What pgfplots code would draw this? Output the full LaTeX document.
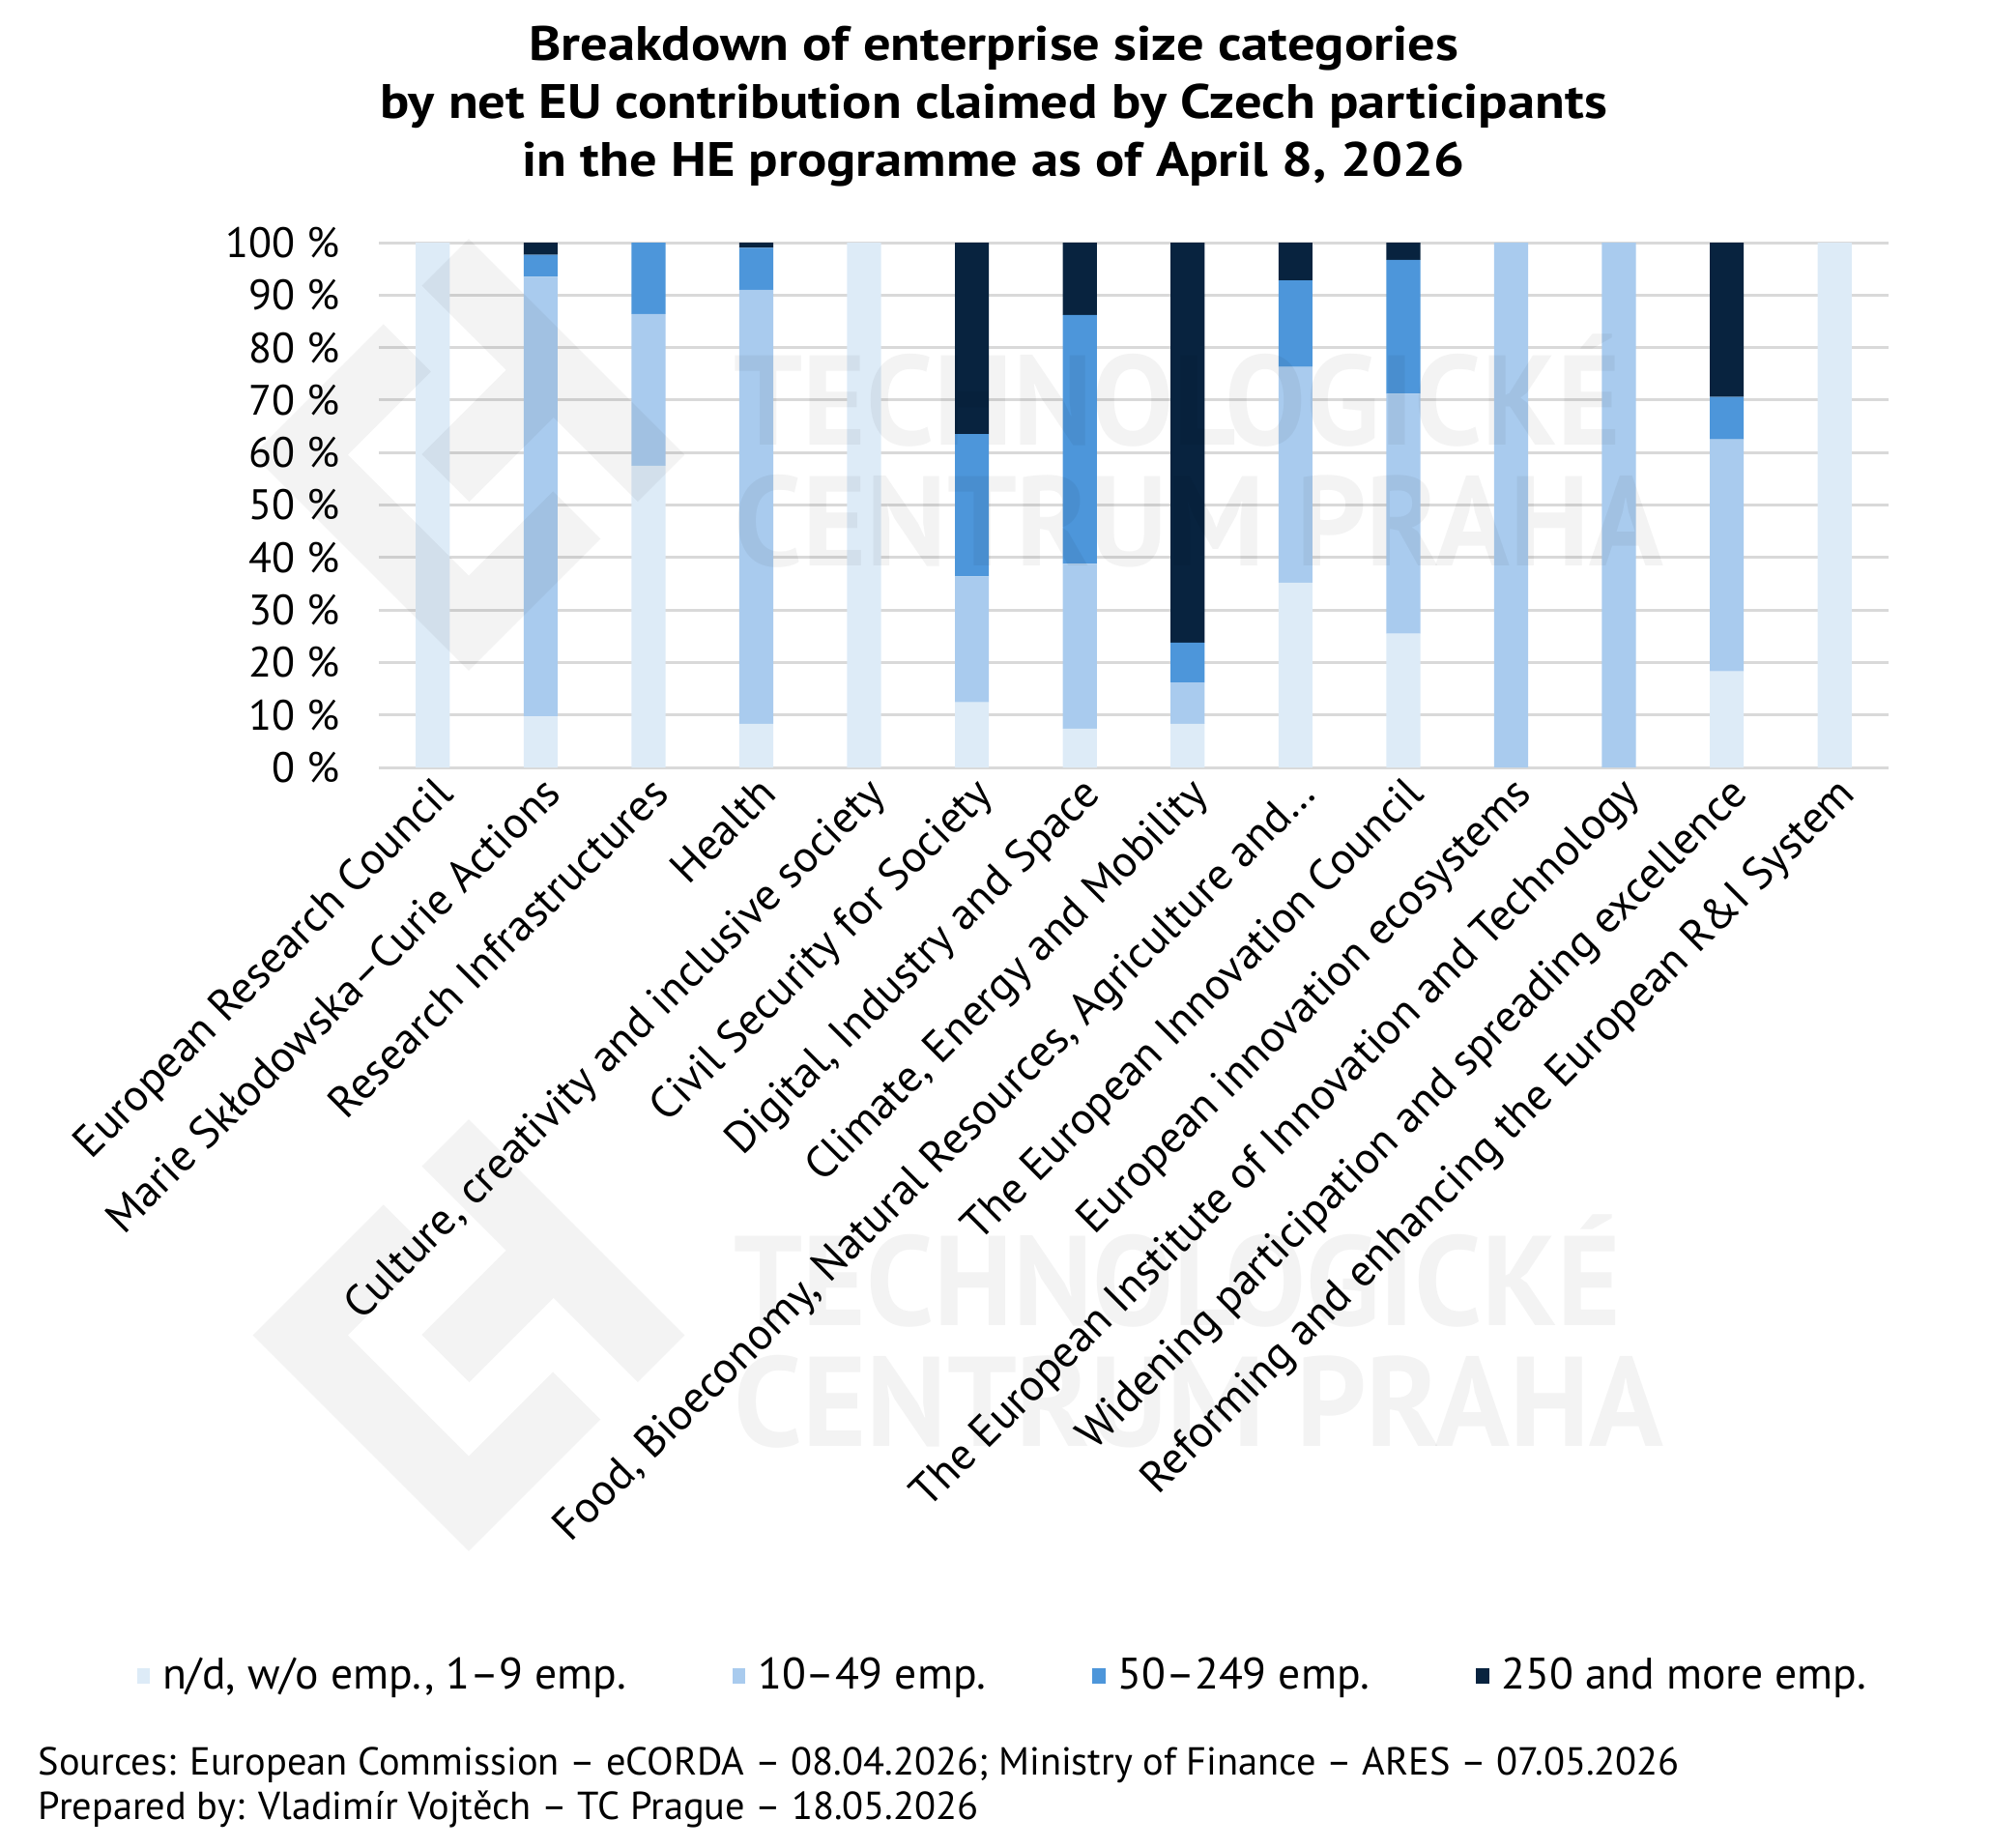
\documentclass[border=0pt]{standalone}
\usepackage{fontspec}
\setmainfont{PT Sans}
\usepackage{pgfplots}
\pgfplotsset{compat=1.18}
\definecolor{c1}{HTML}{DDEBF7}
\definecolor{c2}{HTML}{A9CBEE}
\definecolor{c3}{HTML}{4D96DA}
\definecolor{c4}{HTML}{08233F}
\definecolor{gridc}{HTML}{D9D9D9}
\pgfplotsset{mybar/.style={fill=#1, draw=none,
  legend image code/.code={\fill[#1] (0pt,-2pt) rectangle (3.4pt,2pt);}}}
\begin{document}
\begin{tikzpicture}
\path[use as bounding box] (0,0) rectangle (515pt,-477.75pt);
\begin{axis}[
  at={(98pt,-198.5pt)}, anchor=south west,
  scale only axis, width=390.5pt, height=135.75pt,
  ybar stacked, bar width=8.8pt,
  xmin=-0.5, xmax=13.5, ymin=0, ymax=100,
  xtick={0,...,13},
  xticklabels={European Research Council, Marie Skłodowska–Curie Actions, Research Infrastructures, Health, {Culture, creativity and inclusive society}, Civil Security for Society, {Digital, Industry and Space}, {Climate, Energy and Mobility}, {Food, Bioeconomy, Natural Resources, Agriculture and…}, The European Innovation Council, European innovation ecosystems, The European Institute of Innovation and Technology, Widening participation and spreading excellence, Reforming and enhancing the European R\&I System},
  ytick={0,10,...,100},
  yticklabels={0~\%,10~\%,20~\%,30~\%,40~\%,50~\%,60~\%,70~\%,80~\%,90~\%,100~\%},
  ymajorgrids, grid style={gridc, line width=0.75pt},
  axis line style={draw=none},
  major tick length=0pt,
  yticklabel style={font=\fontsize{11}{13}\selectfont, anchor=east, inner sep=0pt, xshift=-10pt},
  xticklabel style={font=\fontsize{11.5}{13}\selectfont, rotate=45, anchor=north east, inner sep=1pt},
  legend style={at={(0.415,-1.731)}, anchor=center, draw=none, fill=none,
    legend columns=4, font=\fontsize{11.4}{13}\selectfont,
    /tikz/every odd column/.append style={column sep=1.2pt},
    /tikz/every even column/.append style={column sep=25.5pt}},
  legend cell align=left,
]
\addplot[mybar=c1] coordinates {(0,100) (1,9.7) (2,57.5) (3,8.3) (4,100) (5,12.4) (6,7.4) (7,8.3) (8,35.2) (9,25.5) (10,0) (11,0) (12,18.3) (13,100)};
\addplot[mybar=c2] coordinates {(0,0) (1,83.8) (2,28.9) (3,82.7) (4,0) (5,24.0) (6,31.4) (7,7.9) (8,41.1) (9,45.7) (10,100) (11,100) (12,44.2) (13,0)};
\addplot[mybar=c3] coordinates {(0,0) (1,4.2) (2,13.6) (3,8.0) (4,0) (5,27.1) (6,47.4) (7,7.6) (8,16.5) (9,25.5) (10,0) (11,0) (12,8.1) (13,0)};
\addplot[mybar=c4] coordinates {(0,0) (1,2.3) (2,0) (3,1.0) (4,0) (5,36.5) (6,13.8) (7,76.2) (8,7.2) (9,3.3) (10,0) (11,0) (12,29.4) (13,0)};
\legend{{n/d, w/o emp., 1–9 emp.}, {10–49 emp.}, {50–249 emp.}, {250 and more emp.}}
\end{axis}
% watermark
\begin{scope}[x=0.25pt,y=-0.25pt]
\foreach \dy in {0,911}{
  \begin{scope}[shift={(485,247+\dy)}]
    \begin{scope}[x={(0.17678pt,-0.17678pt)}, y={(-0.17678pt,-0.17678pt)}]
      \fill[black, fill opacity=0.047] (0,124.8) -- (0,316) -- (316,316) -- (316,123.2) -- (246.5,123.2) -- (246.5,246.5) -- (69.5,246.5) -- (69.5,124.8) -- cycle;
      \fill[black, fill opacity=0.047] (0,0) -- (316,0) -- (316,68.6) -- (192.8,68.6) -- (192.8,192.1) -- (123.2,192.1) -- (123.2,68.6) -- (0,68.6) -- cycle;
    \end{scope}
  \end{scope}
  \node[anchor=base west, inner sep=0pt, text=black, text opacity=0.047, font=\bfseries\fontsize{33}{33}\selectfont, xscale=0.95] at (759,460+\dy) {TECHNOLOGICKÉ};
  \node[anchor=base west, inner sep=0pt, text=black, text opacity=0.047, font=\bfseries\fontsize{33}{33}\selectfont, xscale=0.96] at (759,585+\dy) {CENTRUM PRAHA};
}
\end{scope}
\node[align=center, xscale=1.13, font=\bfseries\fontsize{12.5}{15}\selectfont] at (257pt,-27.5pt) {Breakdown of enterprise size categories\\by net EU contribution claimed by Czech participants\\in the HE programme as of April 8, 2026};
\node[anchor=west, align=left, inner sep=0pt, font=\fontsize{10.1}{11.5}\selectfont] at (9.75pt,-462.25pt) {Sources: European Commission – eCORDA – 08.04.2026; Ministry of Finance – ARES – 07.05.2026\\Prepared by: Vladimír Vojtěch – TC Prague – 18.05.2026};
\end{tikzpicture}
\end{document}
